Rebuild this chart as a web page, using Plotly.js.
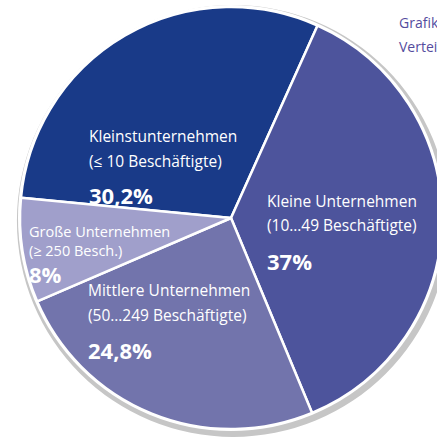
<!DOCTYPE html>
<html>
<head>
<meta charset="utf-8">
<script src="https://cdn.plot.ly/plotly-3.0.1.min.js"></script>
<style>
  html, body { margin: 0; padding: 0; overflow: hidden; background: #fff; }
</style>
</head>
<body>
<div id="chart"></div>
<script>
// Anteil der Unternehmen nach Größenklasse
let categories = ['Kleinstunternehmen', 'Kleine Unternehmen', 'Mittlere Unternehmen', 'Große Unternehmen'];
let subLabels = ['(≤ 10 Beschäftigte)', '(10…49 Beschäftigte)', '(50…249 Beschäftigte)', '(≥ 250 Besch.)'];
let shares = [30.2, 37, 24.8, 8];
let shareLabels = ['30,2%', '37%', '24,8%', '8%'];
let colors = ['#193a88', '#4d549c', '#7274ac', '#a09fcb'];

// figure is a bit wider than the window so the pie runs off the right edge
const W = 460, H = 443;
const cx = 231, cy = 218, r = 211;

// label anchor points in pixels (left edge, line centres); joined = both lines in one block
let labelPos = [
    { x: 87, y: [136, 161, 195], size: 15.5 },
    { x: 265, y: [201, 225, 261], size: 15.5 },
    { x: 86, y: [290, 315, 350], size: 15.5 },
    { x: 27, y: [241, 241, 274], size: 14.5, joined: true }
];

let px = v => v / W;
let py = v => 1 - v / H;
let dom = (x, y, rad) => ({ x: [px(x - rad), px(x + rad)], y: [py(y + rad), py(y - rad)] });

// grey rim behind the pie, then a white gap, then the pie itself
let rim = {
    type: 'pie', values: [1], sort: false, textinfo: 'none', hoverinfo: 'skip',
    marker: { colors: ['#c6c6c6'], line: { width: 0 } },
    domain: dom(cx + 2, cy + 3, r + 5), showlegend: false
};
let gap = {
    type: 'pie', values: [1], sort: false, textinfo: 'none', hoverinfo: 'skip',
    marker: { colors: ['#ffffff'], line: { width: 0 } },
    domain: dom(cx, cy, r + 2), showlegend: false
};

let data = [rim, gap, {
    type: 'pie',
    values: shares,
    labels: categories,
    sort: false,
    direction: 'clockwise',
    rotation: -84.5,
    textinfo: 'none',
    hoverinfo: 'label+percent',
    marker: { colors: colors, line: { color: '#ffffff', width: 2.5 } },
    domain: dom(cx, cy, r),
    showlegend: false
}];

function note(x, y, text, size, color) {
    return {
        xref: 'paper', yref: 'paper',
        x: px(x), y: py(y),
        xanchor: 'left', yanchor: 'middle', align: 'left',
        showarrow: false,
        text: text,
        font: { family: 'Open Sans, sans-serif', size: size, color: color }
    };
}

let annotations = [];
for (let i = 0; i < categories.length; i++) {
    let p = labelPos[i];
    if (p.joined) {
        annotations.push(note(p.x, p.y[0], categories[i] + '<br>' + subLabels[i], p.size, '#ffffff'));
    } else {
        annotations.push(note(p.x, p.y[0], categories[i], p.size, '#ffffff'));
        annotations.push(note(p.x, p.y[1], subLabels[i], p.size, '#ffffff'));
    }
    annotations.push(note(p.x, p.y[2], '<b>' + shareLabels[i] + '</b>', 22, '#ffffff'));
}

annotations.push(note(397, 22, 'Grafik', 14, '#544c9e'));
annotations.push(note(397, 47, 'Verteilung', 14, '#544c9e'));

let layout = {
    width: W,
    height: H,
    margin: { l: 0, r: 0, t: 0, b: 0 },
    paper_bgcolor: '#ffffff',
    annotations: annotations
};

Plotly.newPlot('chart', data, layout, { displayModeBar: false, staticPlot: true });
</script>
</body>
</html>
